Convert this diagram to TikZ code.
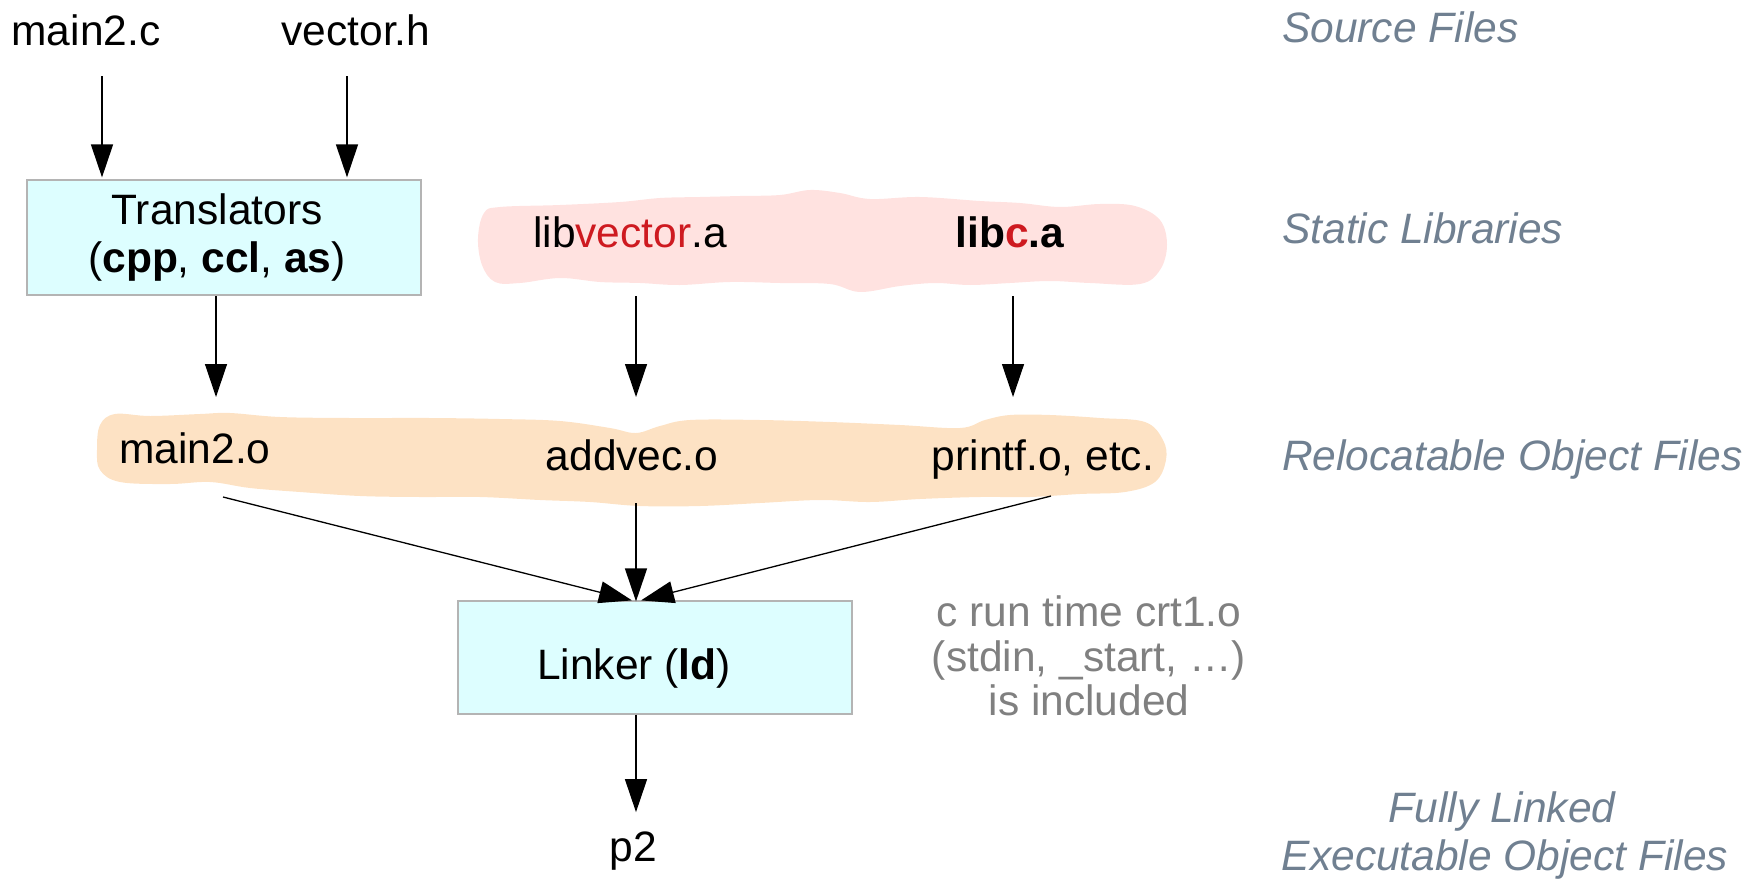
\documentclass[tikz,border=0pt]{standalone}
\usepackage{fontspec}
\setmainfont{Liberation Sans}
\usetikzlibrary{arrows.meta,calc}
\definecolor{boxfill}{RGB}{221,254,255}
\definecolor{boxline}{RGB}{180,180,180}
\definecolor{blobpink}{RGB}{255,226,224}
\definecolor{blobor}{RGB}{253,226,196}
\definecolor{libred}{RGB}{206,26,32}
\definecolor{slate}{RGB}{112,128,145}
\definecolor{noteg}{RGB}{128,128,128}
\tikzset{
  txt/.style={inner sep=0pt, anchor=base, font=\fontsize{42.5}{49}\selectfont},
  lbl/.style={inner sep=0pt, anchor=base west, text=slate, font=\fontsize{42.5}{49}\selectfont\itshape},
  boxnode/.style={draw=boxline, fill=boxfill, line width=1.2pt, inner sep=0pt},
  arr/.style={line width=1.3pt, -{Triangle[length=33pt,width=22pt]}},
}
\begin{document}
\begin{tikzpicture}[x=1pt,y=-1pt]
\useasboundingbox (0,0) rectangle (1763,878);

% blobs
\fill[blobpink] plot[smooth cycle, tension=0.6] coordinates {
(478,238) (484,213) (500,207) (560,205) (620,202) (660,198) (700,197) (740,196)
(780,195) (810,190) (840,193) (870,199) (920,197) (980,201) (1020,203) (1060,207)
(1100,204) (1135,206) (1160,220) (1167,245) (1160,270) (1140,284) (1090,283)
(1050,281) (1010,283) (970,285) (935,283) (900,286) (860,292) (830,284) (780,283)
(730,282) (680,285) (640,283) (600,282) (560,278) (520,283) (495,282) (482,265)};
\fill[blobor] plot[smooth cycle, tension=0.6] coordinates {
(97,450) (100,425) (115,414) (150,416) (200,414) (230,413) (280,417) (350,418)
(430,418) (500,419) (560,421) (610,428) (636,433) (660,426) (690,420) (760,420)
(830,422) (900,425) (960,428) (985,420) (1010,415) (1050,415) (1100,418)
(1145,422) (1163,440) (1166,460) (1155,482) (1125,492) (1080,494) (1030,497)
(980,497) (920,499) (870,502) (820,500) (760,503) (700,506) (640,506) (590,502)
(540,500) (480,497) (420,497) (360,496) (300,492) (250,488) (210,482) (170,484)
(120,482) (100,470)};

% boxes
\node[boxnode, minimum width=394pt, minimum height=115pt] (trans) at (224,237.5) {};
\node[boxnode, minimum width=394pt, minimum height=113pt] (link) at (655,657.5) {};

% texts
\node[txt] (main2c) at (86,45) {main2.c};
\node[txt] (vectorh) at (356,45) {vector.h};
\node[txt] (transA) at (217,224) {Translators};
\node[txt] (transB) at (217,272) {(\textbf{cpp}, \textbf{ccl}, \textbf{as})};
\node[txt] (libvec) at (630,247) {lib\textcolor{libred}{vector}.a};
\node[txt] (libc) at (1010,247) {\textbf{lib\textcolor{libred}{c}.a}};
\node[txt] (main2o) at (195,463) {main2.o};
\node[txt] (addvec) at (632,470) {addvec.o};
\node[txt] (printf) at (1043,470) {printf.o, etc.};
\node[txt] (linkt) at (634,679) {Linker (\textbf{ld})};
\node[txt] (p2) at (633,861) {p2};
\node[txt, text=noteg] (crtA) at (1089,626) {c run time crt1.o};
\node[txt, text=noteg] (crtB) at (1089,671) {(stdin, \_start, \dots)};
\node[txt, text=noteg] (crtC) at (1089,715) {is included};

\node[lbl] (lsrc) at (1282,42) {Source Files};
\node[lbl] (lstat) at (1282,243) {Static Libraries};
\node[lbl] (lrel) at (1282,470) {Relocatable Object Files};
\node[lbl, anchor=base] (lfullA) at (1502,822) {Fully Linked};
\node[lbl, anchor=base] (lfullB) at (1505,870) {Executable Object Files};

% free ends
\coordinate (c1) at (102,76);
\coordinate (c2) at (347,76);
\coordinate (c3) at (216,296);
\coordinate (c4) at (636,296);
\coordinate (c5) at (1013,296);
\coordinate (s1) at (223,497);
\coordinate (s2) at (636,503);
\coordinate (s3) at (1051,496);

% connectors
\draw[arr, shorten >=2pt] (c1) -- (c1 |- trans.north);
\draw[arr, shorten >=2pt] (c2) -- (c2 |- trans.north);
\draw[arr] (c3) -- ($(main2o.north)+(21,-35)$);
\draw[arr] (c4) -- ($(addvec.north)+(4,-42)$);
\draw[arr] (c5) -- ($(printf.north)+(-30,-42)$);
\draw[arr] (s1) -- ($(link.north)+(-23,0)$);
\draw[arr] (s2) -- ($(link.north)+(-19,1)$);
\draw[arr] (s3) -- ($(link.north)+(-14,0)$);
\draw[arr] ($(link.south)+(-19,0)$) -- ($(p2.north)+(3,-19)$);
\end{tikzpicture}
\end{document}
